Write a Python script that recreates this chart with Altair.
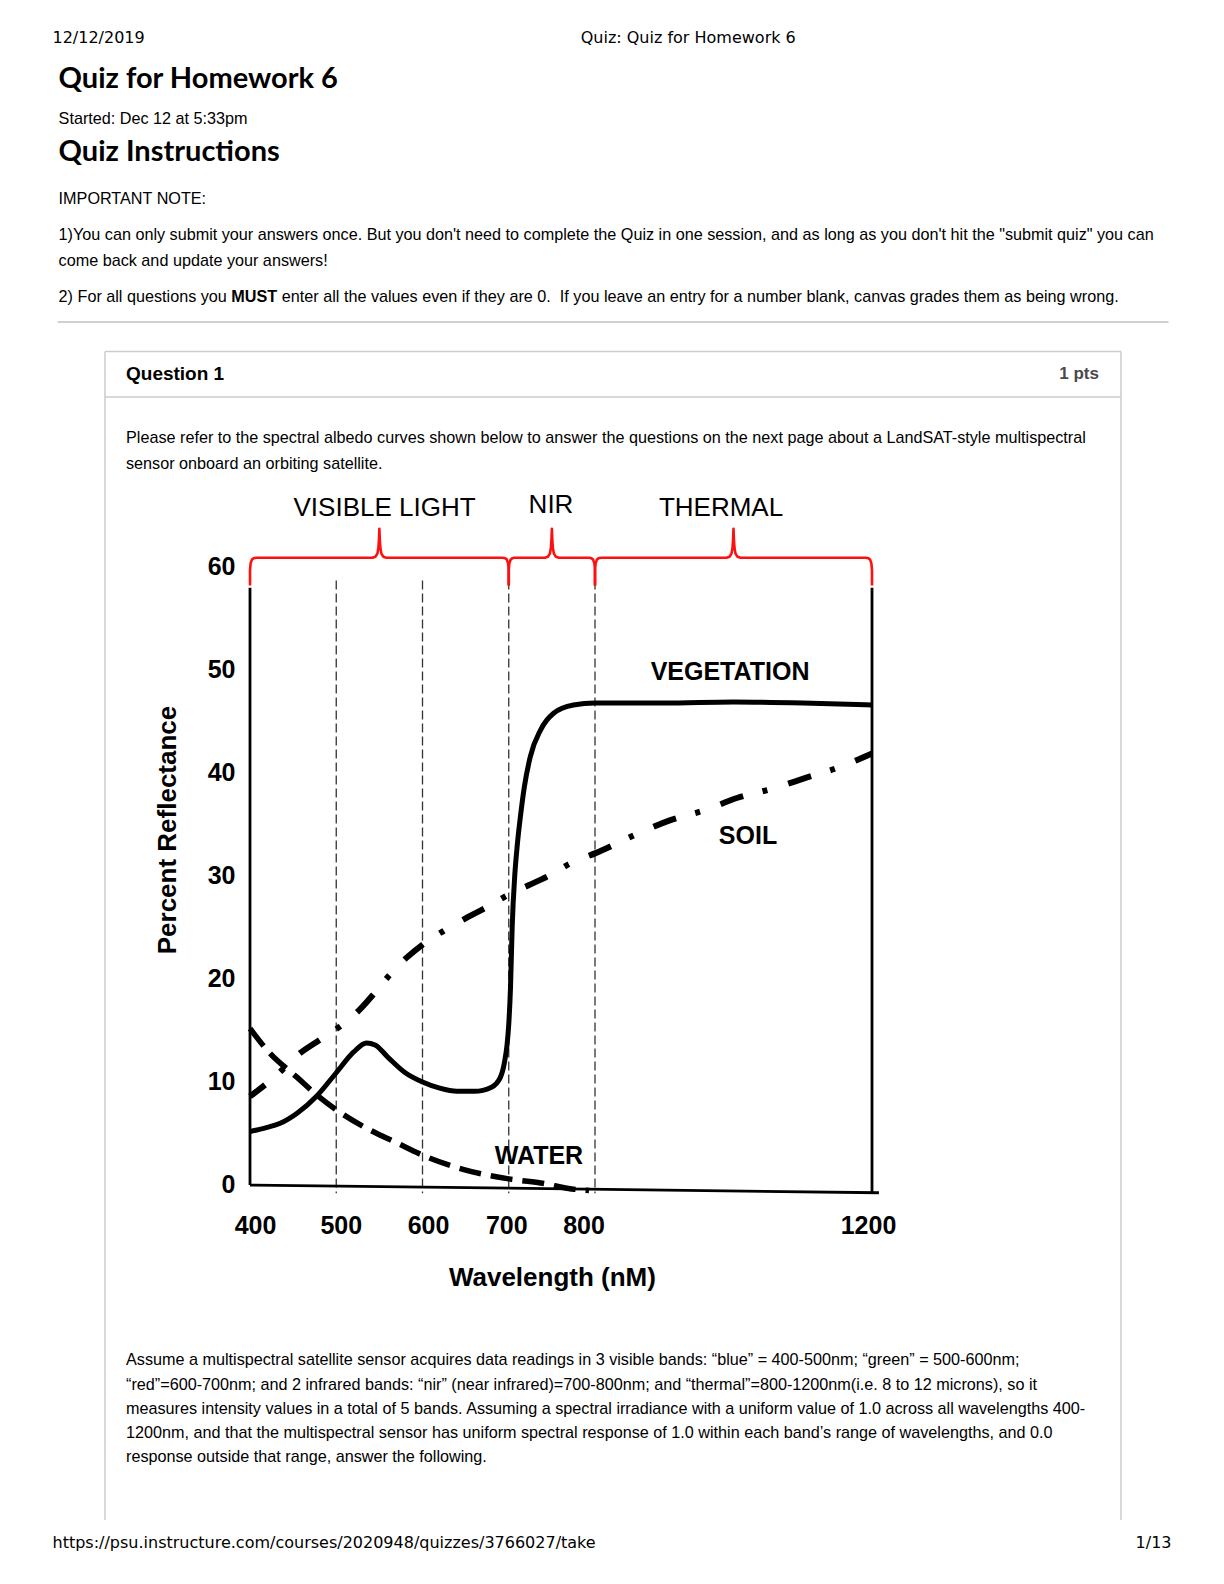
import altair as alt
import pandas as pd

# ---------------- values ----------------
veg_nm = [400, 420, 435, 455, 478, 500, 520, 535, 545, 560, 580, 600, 620, 640, 660, 680,
          690, 695, 698, 700, 702, 704, 707, 710, 714, 718, 725, 737, 752, 775, 800, 900,
          1000, 1100, 1200]
veg_val = [5.1, 5.5, 5.9, 6.9, 8.6, 10.8, 12.8, 13.7, 13.5, 12.3, 10.8, 9.9, 9.3, 9.0, 9.0, 9.4,
           10.3, 11.8, 13.5, 15.5, 19.0, 25.0, 30.0, 33.0, 36.0, 38.5, 41.5, 44.1, 45.7, 46.5, 46.7, 46.7,
           46.8, 46.7, 46.5]

soil_nm = [400, 430, 458, 481, 506, 528, 545, 562, 582, 601, 627, 650, 675, 700, 723, 748,
           773, 800, 858, 908, 959, 1006, 1057, 1103, 1154, 1200]
soil_val = [8.5, 10.5, 12.7, 14.0, 15.4, 17.0, 18.6, 20.3, 22.0, 23.3, 24.7, 25.8, 26.9, 28.1, 29.0, 30.0,
            31.2, 32.1, 33.9, 35.3, 36.3, 37.5, 38.4, 39.4, 40.5, 41.8]

water_nm = [400, 423, 454, 478, 500, 540, 570, 600, 648, 700, 737, 775, 793]
water_val = [15.1, 12.7, 10.4, 8.6, 7.2, 5.2, 4.0, 2.8, 1.4, 0.5, 0.1, -0.5, -0.62]

band_edges = [500, 600, 700, 800]
band_names = ["VISIBLE LIGHT", "NIR", "THERMAL"]
band_start = [400, 700, 800]
band_mid = [550, 750, 1000]
band_end = [700, 800, 1200]
band_label_nm = [556, 749, 982]
band_label_val = [65.6, 65.9, 65.6]

curve_names = ["VEGETATION", "SOIL", "WATER"]
curve_label_nm = [995, 1021, 735]
curve_label_val = [49.7, 33.8, 2.7]

y_ticks = [0, 10, 20, 30, 40, 50, 60]
x_ticks = [400, 500, 600, 700, 800, 1200]
x_tick_text = ["400", "500", "600", "700", "800", "1200"]

frame_x = [400, 1200, 400]
frame_x2 = [400, 1200, 1210]
frame_y = [-0.1, -0.8, -0.1]
frame_y2 = [57.9, 57.9, -0.85]

# ---------------- layout / style ----------------
OX, OY = 250, 566          # page position of the plot origin (400 nm, 60 %)
W, H = 622, 618
X_DOMAIN = [400, 800, 1200]
X_RANGE = [0, 345, W]
ARIAL = "Liberation Sans"
LATO = "Lato"
HDR = "DejaVu Sans"
BODY = 16.2

xscale = alt.Scale(domain=X_DOMAIN, range=X_RANGE, nice=False, zero=False)
yscale = alt.Scale(domain=[0, 60], nice=False, zero=False)
yaxis = alt.Axis(values=y_ticks, title=None, ticks=False, domain=False, grid=False,
                 labelFont=ARIAL, labelFontSize=25, labelFontWeight="bold", labelColor="#000",
                 labelPadding=15)


def X(f):
    return alt.X(f, type="quantitative", scale=xscale, axis=None)


def Y(f):
    return alt.Y(f, type="quantitative", scale=yscale, axis=yaxis)


layers = []

# dashed band separators
df_edges = pd.DataFrame({"nm": band_edges})
layers.append(
    alt.Chart(df_edges).mark_rule(color="#333", strokeWidth=1.3, strokeDash=[9, 4]).encode(
        x=X("nm:Q"),
        y=alt.Y(datum=58.6, type="quantitative", scale=yscale, axis=yaxis),
        y2=alt.Y2(datum=-0.9),
    )
)

# frame (left axis, right edge, baseline)
df_frame = pd.DataFrame({"x": frame_x, "x2": frame_x2, "y": frame_y, "y2": frame_y2})
layers.append(
    alt.Chart(df_frame).mark_rule(color="#000", strokeWidth=2.8).encode(
        x=X("x:Q"), x2="x2:Q", y=Y("y:Q"), y2="y2:Q"
    )
)

# curves
df_veg = pd.DataFrame({"nm": veg_nm, "v": veg_val})
df_soil = pd.DataFrame({"nm": soil_nm, "v": soil_val})
df_water = pd.DataFrame({"nm": water_nm, "v": water_val})
layers.append(
    alt.Chart(df_water).mark_line(color="#000", strokeWidth=5.5, strokeDash=[22, 10],
                                  interpolate="monotone", strokeCap="butt").encode(x=X("nm:Q"), y=Y("v:Q"))
)
layers.append(
    alt.Chart(df_soil).mark_line(color="#000", strokeWidth=6, strokeDash=[24, 20, 5, 21.8],
                                 strokeDashOffset=5,
                                 interpolate="monotone", strokeCap="butt").encode(x=X("nm:Q"), y=Y("v:Q"))
)
layers.append(
    alt.Chart(df_veg).mark_line(color="#000", strokeWidth=5, interpolate="monotone",
                                strokeJoin="round").encode(x=X("nm:Q"), y=Y("v:Q"))
)

# red braces (shape template in pixel offsets)
END = [(0, 58.1), (0, 59.6), (0.6, 60.25), (1.8, 60.6), (3.5, 60.75), (6, 60.8)]
PEAK = [(-7, 60.8), (-4, 60.9), (-2, 61.2), (-1, 61.75), (-0.4, 62.6), (0, 63.6)]


def px_per_nm(a):
    for i in range(len(X_DOMAIN) - 1):
        if X_DOMAIN[i] <= a < X_DOMAIN[i + 1]:
            return (X_RANGE[i + 1] - X_RANGE[i]) / (X_DOMAIN[i + 1] - X_DOMAIN[i])
    return 1.0


rows = []
for bi, (a, m, b) in enumerate(zip(band_start, band_mid, band_end)):
    k = px_per_nm(a)
    pts = [(a + dx / k, v) for dx, v in END]
    pts += [(m + dx / k, v) for dx, v in PEAK]
    pts += [(m - dx / k, v) for dx, v in reversed(PEAK[:-1])]
    pts += [(b - dx / k, v) for dx, v in reversed(END)]
    for j, (x, v) in enumerate(pts):
        rows.append({"b": bi, "o": j, "nm": x, "v": v})
df_brace = pd.DataFrame(rows)
layers.append(
    alt.Chart(df_brace).mark_line(color="#ff1010", strokeWidth=2.6, strokeJoin="round").encode(
        x=X("nm:Q"), y=Y("v:Q"), detail="b:N", order="o:Q"
    )
)

# band titles
df_bands = pd.DataFrame({"nm": band_label_nm, "v": band_label_val, "t": band_names})
layers.append(
    alt.Chart(df_bands).mark_text(font=ARIAL, fontSize=26, color="#000", baseline="middle").encode(
        x=X("nm:Q"), y=Y("v:Q"), text="t:N"
    )
)

# curve labels
df_cl = pd.DataFrame({"nm": curve_label_nm, "v": curve_label_val, "t": curve_names})
layers.append(
    alt.Chart(df_cl).mark_text(font=ARIAL, fontSize=25, fontWeight="bold", color="#000",
                               baseline="middle").encode(x=X("nm:Q"), y=Y("v:Q"), text="t:N")
)

# x tick labels (drawn as text so each can be nudged like the original)
x_nudge = [5.5, 5, 6, -2, -11, -3.5]
for v, t, d in zip(x_ticks, x_tick_text, x_nudge):
    layers.append(
        alt.Chart(pd.DataFrame({"nm": [v], "t": [t]})).mark_text(
            font=ARIAL, fontSize=25, fontWeight="bold", color="#000", baseline="middle", dx=d
        ).encode(x=X("nm:Q"), y=alt.value(1226 - OY), text="t:N")
    )

ONE = alt.Data(values=[{"k": 0}])


def page_text(txt, px, py, size, font=ARIAL, weight="normal", align="left", color="#000", angle=0):
    return alt.Chart(ONE).mark_text(
        text=txt, font=font, fontSize=size, fontWeight=weight, align=align, baseline="middle",
        color=color, angle=angle
    ).encode(x=alt.value(px - OX), y=alt.value(py - OY))


def page_rule(x1, y1, x2, y2, color, width):
    return alt.Chart(ONE).mark_rule(color=color, strokeWidth=width).encode(
        x=alt.value(x1 - OX), x2=alt.value(x2 - OX), y=alt.value(y1 - OY), y2=alt.value(y2 - OY)
    )


# axis titles
layers.append(page_text("Percent Reflectance", 167.6, 830, 26, weight="bold", align="center", angle=270))
layers.append(page_text("Wavelength (nM)", 552.4, 1277.5, 26, weight="bold", align="center"))

# page furniture
BOX = "#c7cdd1"
layers.append(page_rule(57.6, 322, 1168.5, 322, "#d0d0d0", 2))
layers.append(page_rule(105, 351.4, 1121, 351.4, BOX, 1.5))
layers.append(page_rule(105, 397, 1121, 397, BOX, 1.5))
layers.append(page_rule(105, 351.4, 105, 1520, BOX, 1.5))
layers.append(page_rule(1121, 351.4, 1121, 1520, BOX, 1.5))

page_lines = [
    ("12/12/2019", 52.5, 38.4, 16, HDR, "normal", "left", "#000"),
    ("Quiz: Quiz for Homework 6", 580.7, 38.4, 16, HDR, "normal", "left", "#000"),
    ("Quiz for Homework 6", 58.6, 78.8, 29, LATO, "bold", "left", "#000"),
    ("Started: Dec 12 at 5:33pm", 58.6, 119.2, BODY, ARIAL, "normal", "left", "#000"),
    ("Quiz Instructions", 58.6, 151.5, 29, LATO, "bold", "left", "#000"),
    ("IMPORTANT NOTE:", 58.6, 199, BODY, ARIAL, "normal", "left", "#000"),
    ("1)You can only submit your answers once. But you don't need to complete the Quiz in one session, "
     "and as long as you don't hit the \"submit quiz\" you can", 58.6, 235.3, BODY, ARIAL, "normal", "left", "#000"),
    ("come back and update your answers!", 58.6, 260.6, BODY, ARIAL, "normal", "left", "#000"),
    ("2) For all questions you", 58.6, 297, BODY, ARIAL, "normal", "left", "#000"),
    ("MUST", 231.3, 297, BODY, ARIAL, "bold", "left", "#000"),
    ("enter all the values even if they are 0.\u00a0 If you leave an entry for a number blank, canvas grades "
     "them as being wrong.", 281.8, 297, BODY, ARIAL, "normal", "left", "#000"),
    ("Question 1", 126, 373.7, 19, ARIAL, "bold", "left", "#000"),
    ("1 pts", 1099, 373.7, 17, ARIAL, "bold", "right", "#4a4a4a"),
    ("Please refer to the spectral albedo curves shown below to answer the questions on the next page "
     "about a LandSAT-style multispectral", 126, 438.3, BODY, ARIAL, "normal", "left", "#000"),
    ("sensor onboard an orbiting satellite.", 126, 463.5, BODY, ARIAL, "normal", "left", "#000"),
    ("Assume a multispectral satellite sensor acquires data readings in 3 visible bands: \u201cblue\u201d = "
     "400-500nm; \u201cgreen\u201d = 500-600nm;", 126, 1360.3, BODY, ARIAL, "normal", "left", "#000"),
    ("\u201cred\u201d=600-700nm; and 2 infrared bands: \u201cnir\u201d (near infrared)=700-800nm; and "
     "\u201cthermal\u201d=800-1200nm(i.e. 8 to 12 microns), so it", 126, 1384.6, BODY, ARIAL, "normal", "left", "#000"),
    ("measures intensity values in a total of 5 bands. Assuming a spectral irradiance with a uniform value "
     "of 1.0 across all wavelengths 400-", 126, 1408.8, BODY, ARIAL, "normal", "left", "#000"),
    ("1200nm, and that the multispectral sensor has uniform spectral response of 1.0 within each band\u2019s "
     "range of wavelengths, and 0.0", 126, 1433, BODY, ARIAL, "normal", "left", "#000"),
    ("response outside that range, answer the following.", 126, 1457.3, BODY, ARIAL, "normal", "left", "#000"),
    ("https://psu.instructure.com/courses/2020948/quizzes/3766027/take", 52.5, 1543, 16, HDR, "normal", "left", "#000"),
    ("1/13", 1171.5, 1543, 16, HDR, "normal", "right", "#000"),
]
for t, px, py, s, f, w, a, c in page_lines:
    layers.append(page_text(t, px, py, s, font=f, weight=w, align=a, color=c))

chart = alt.layer(*layers).properties(
    width=W,
    height=H,
    padding={"left": OX - 8, "top": OY - 8, "right": 1208 - (OX - 8) - W, "bottom": 1568 - (OY - 8) - H},
    autosize=alt.AutoSizeParams(type="none"),
    background="white",
).configure_view(stroke=None)

chart.save("out.html", embed_options={"renderer": "svg", "actions": False})
